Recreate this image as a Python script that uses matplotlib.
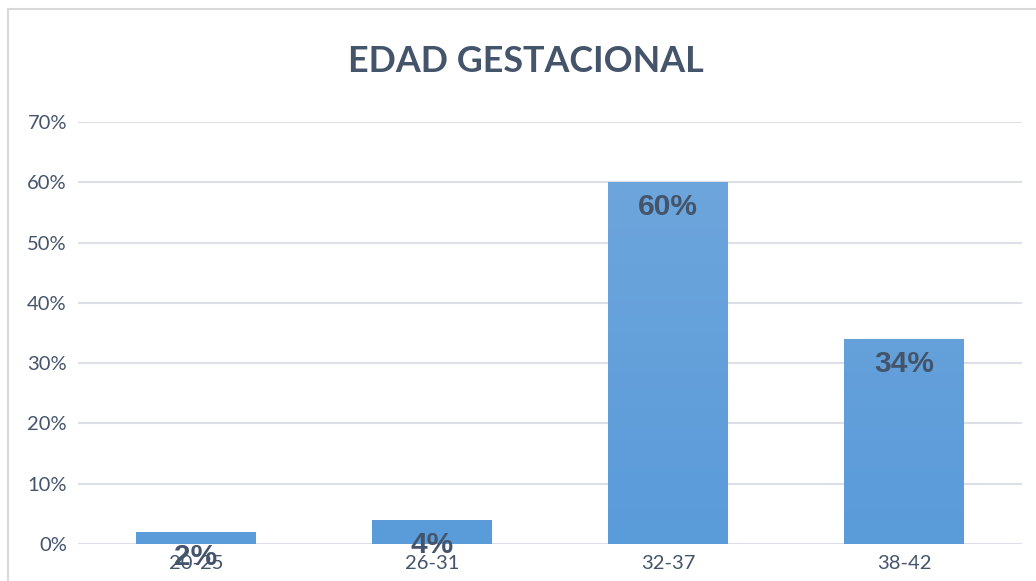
import numpy as np
import matplotlib.pyplot as plt
from matplotlib.patches import Rectangle
from matplotlib.colors import LinearSegmentedColormap
from matplotlib.ticker import PercentFormatter

# Datos
categorias = ['20-25', '26-31', '32-37', '38-42']
porcentajes = [0.02, 0.04, 0.60, 0.34]
etiquetas = ['2%', '4%', '60%', '34%']
marcas_y = [0, 0.1, 0.2, 0.3, 0.4, 0.5, 0.6, 0.7]

gris_texto = '#44546A'
degradado = LinearSegmentedColormap.from_list('barra', ['#5A9BDA', '#70A7DC'])

plt.rcParams['font.family'] = ['Lato', 'DejaVu Sans']

fig = plt.figure(figsize=(10.36, 5.81), dpi=100)
W, H = 1036, 581
ax = fig.add_axes([78 / W, 1 - 544 / H, (1022 - 78) / W, (544 - 122) / H])

# marco del grafico
fig.patches.append(Rectangle((8 / W, -0.05), 1.1, 1 - 9 / H + 0.05, transform=fig.transFigure,
                             fill=False, edgecolor='#D9D9D9', linewidth=1.5))

x = range(len(categorias))
barras = ax.bar(x, porcentajes, width=0.505, color='#62A0D9', zorder=3)

# degradado vertical en cada barra
grad = np.linspace(0, 1, 256).reshape(-1, 1)
for b in barras:
    x0 = b.get_x()
    im = ax.imshow(grad, cmap=degradado, aspect='auto', origin='lower',
                   extent=[x0, x0 + b.get_width(), 0, 0.7], zorder=3.5)
    im.set_clip_path(b)

for b, e in zip(barras, etiquetas):
    ax.annotate(e, (b.get_x() + b.get_width() / 2, b.get_height()),
                xytext=(0, -8), textcoords='offset points', ha='center', va='top',
                fontsize=21.5, fontweight='bold', color=gris_texto,
                family=['Liberation Sans', 'DejaVu Sans'], zorder=4)

ax.set_xlim(-0.5, 3.5)
ax.set_ylim(0, 0.7)
ax.set_yticks(marcas_y)
ax.yaxis.set_major_formatter(PercentFormatter(1.0, decimals=0))
ax.set_xticks(list(x))
ax.set_xticklabels(categorias)
ax.grid(axis='y', color='#DCE0E6', linewidth=1.5, zorder=0)
for s in ax.spines.values():
    s.set_visible(False)
ax.tick_params(axis='both', length=0, labelsize=14.5, colors=gris_texto)
ax.tick_params(axis='x', pad=8)
ax.tick_params(axis='y', pad=8)

fig.text(526 / W, 1 - 62 / H, 'EDAD GESTACIONAL', ha='center', va='center',
         fontsize=25.8, fontweight='bold', color=gris_texto)

fig.savefig('out.png', dpi=100)
